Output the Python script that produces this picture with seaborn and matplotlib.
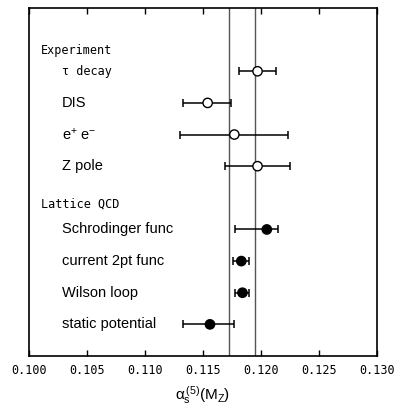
import numpy as np
import pandas as pd
import matplotlib
matplotlib.use("Agg")
import matplotlib.pyplot as plt
import matplotlib.transforms as mtrans
import seaborn as sns

labels = ["τ decay", "DIS", "e$^{+}$ e$^{-}$", "Z pole",
          "Schrodinger func", "current 2pt func", "Wilson loop", "static potential"]
rows = [0, 1, 2, 3, 5, 6, 7, 8]
group = ["Experiment"] * 4 + ["Lattice QCD"] * 4
alpha = [0.1197, 0.1154, 0.1177, 0.1197, 0.1205, 0.1183, 0.1184, 0.1156]
err_lo = [0.1181, 0.1133, 0.1130, 0.1169, 0.1178, 0.1176, 0.1178, 0.1133]
err_hi = [0.1213, 0.1174, 0.1223, 0.1225, 0.1215, 0.1190, 0.1190, 0.1177]
band = [0.1172, 0.1195]
headers = ["Experiment", "Lattice QCD"]
header_rows = [-0.66, 4.19]
xticks = [0.100, 0.105, 0.110, 0.115, 0.120, 0.125, 0.130]

df = pd.DataFrame({"label": labels, "row": rows, "group": group,
                   "alpha": alpha, "lo": err_lo, "hi": err_hi})

sns.set_style("ticks", {"axes.edgecolor": "black", "xtick.color": "black",
                        "text.color": "black", "axes.labelcolor": "black"})
plt.rcParams["font.family"] = ["Liberation Sans", "DejaVu Sans"]
plt.rcParams["mathtext.default"] = "regular"

fig = plt.figure(figsize=(3.94, 4.12), dpi=100)
ax = fig.add_axes([0.0736, 0.1359, 0.8833, 0.8447])

for x in band:
    ax.axvline(x, color="#555555", lw=1.0, zorder=1)

ax.errorbar(df["alpha"], df["row"],
            xerr=[df["alpha"] - df["lo"], df["hi"] - df["alpha"]],
            fmt="none", ecolor="black", elinewidth=1.1, capsize=2.6,
            capthick=1.1, zorder=2)

sns.scatterplot(data=df, x="alpha", y="row", hue="group",
                palette={"Experiment": "white", "Lattice QCD": "black"},
                edgecolor="black", linewidth=1.0, s=45, legend=False,
                ax=ax, zorder=3)

trans = mtrans.blended_transform_factory(ax.transAxes, ax.transData)
mono = ["DejaVu Sans Mono"]
for h, r in zip(headers, header_rows):
    ax.text(0.034, r, h, transform=trans, va="center", ha="left",
            fontsize=8.5, family=mono)
for lab, r in zip(labels, rows):
    fam = mono if lab.startswith("τ") else ["Liberation Sans", "DejaVu Sans"]
    fs = 8.5 if lab.startswith("τ") else 10.5
    ax.text(0.095, r, lab, transform=trans, va="center", ha="left",
            fontsize=fs, family=fam)

ax.set_xlim(0.100, 0.130)
ax.set_ylim(9, -2)
ax.set_yticks([])
ax.set_xticks(xticks)
ax.set_xticklabels([f"{t:.3f}" for t in xticks], family=mono, fontsize=8.5)
ax.tick_params(axis="x", direction="in", top=True, length=4, width=1, pad=6,
               colors="black")
ax.set_xlabel(r"$\alpha_{s}^{\,(5)}(M_{Z})$", fontsize=11, labelpad=5)
ax.set_ylabel("")
for s in ax.spines.values():
    s.set_linewidth(1.2)
    s.set_color("black")
    s.set_visible(True)

fig.savefig("out.png", dpi=100)
